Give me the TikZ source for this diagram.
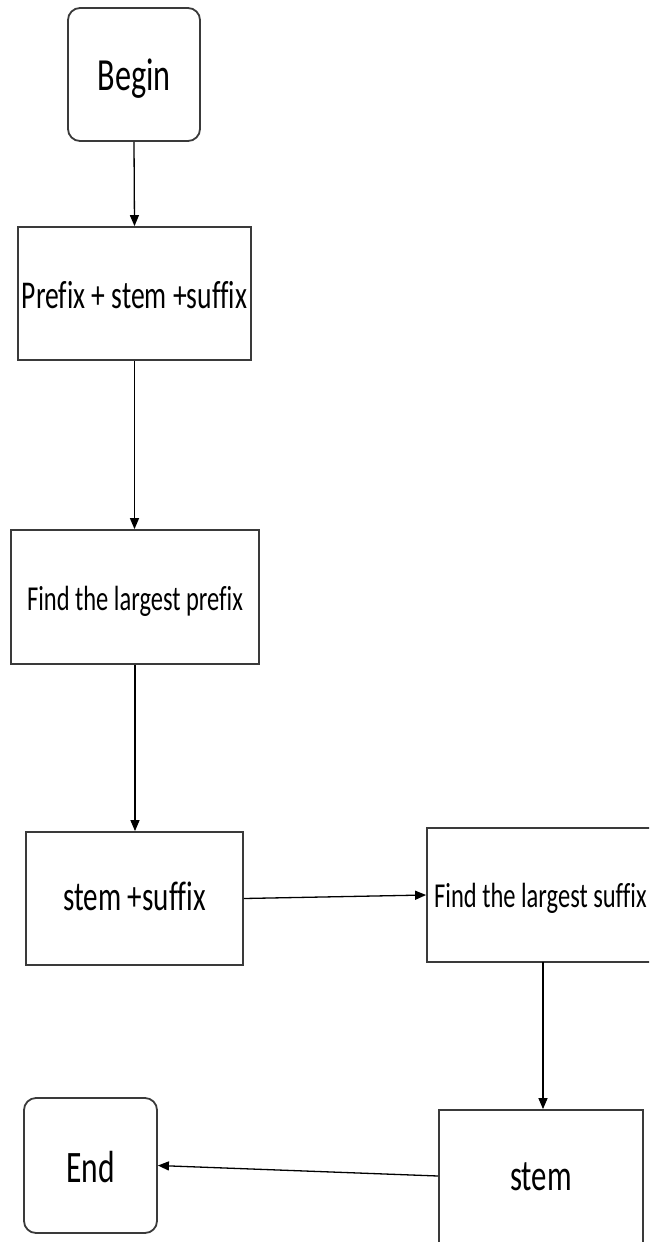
\documentclass[tikz,border=0pt]{standalone}
\usepackage{fontspec}
\usetikzlibrary{arrows.meta}
\newfontfamily\flowfont[FakeStretch=0.7,Ligatures=NoCommon]{Carlito}
\definecolor{boxline}{HTML}{3A3A3A}
\newcommand{\fsz}[1]{\flowfont\fontsize{#1}{#1}\selectfont}
\begin{document}
\begin{tikzpicture}[x=1pt,y=-1pt,
  box/.style={draw=boxline,line width=1.8pt,inner sep=0pt,text depth=0pt},
  term/.style={box,rounded corners=12pt},
  flow/.style={draw=black,line width=1.3pt,
    -{Triangle[length=11pt,width=9pt]}},
  txt/.style={inner sep=0pt}]
\useasboundingbox (0,0) rectangle (649,1242);
\clip (0,0) rectangle (649,1242);

% process steps
\node[term,minimum width=132pt,minimum height=133pt,font=\fsz{46},text height=31pt]
  (begin) at (134,74.5) {Begin};
\node[box,minimum width=233pt,minimum height=133pt,font=\fsz{39.4},text height=29pt]
  (prefix) at (134.5,293.5) {Prefix + stem +suffix};
\node[box,minimum width=248pt,minimum height=134pt,font=\fsz{35},text height=26pt]
  (findp) at (135,597) {Find the largest prefix};
\node[box,minimum width=217pt,minimum height=133pt,font=\fsz{41.5},text height=23pt]
  (stemsuf) at (134.5,898.5) {stem +suffix};
\node[box,minimum width=253pt,minimum height=134pt] (finds) at (553.5,895) {};
\node[txt,anchor=base west,font=\fsz{35}]
  (findstext) at (434,907) {Find the largest suffix};
\node[box,minimum width=204pt,minimum height=140pt,font=\fsz{44},text height=20pt]
  (stem) at (541,1180) {stem};
\node[term,minimum width=133pt,minimum height=135pt,font=\fsz{45},text height=33pt]
  (end) at (90.5,1165.5) {End};

% connectors
\draw[flow] (begin.south) -- (prefix.north);
\draw[flow] (prefix.south) -- (prefix.south |- findp.north);
\draw[flow] (findp.south) -- (findp.south |- stemsuf.north);
\draw[flow] (stemsuf.east) -- (finds.west);
\coordinate (sdrop) at (543,962);
\draw[flow] (sdrop) -- (sdrop |- stem.north);
\draw[flow] ([yshift=4pt]stem.west) -- (end.east);
\end{tikzpicture}
\end{document}
